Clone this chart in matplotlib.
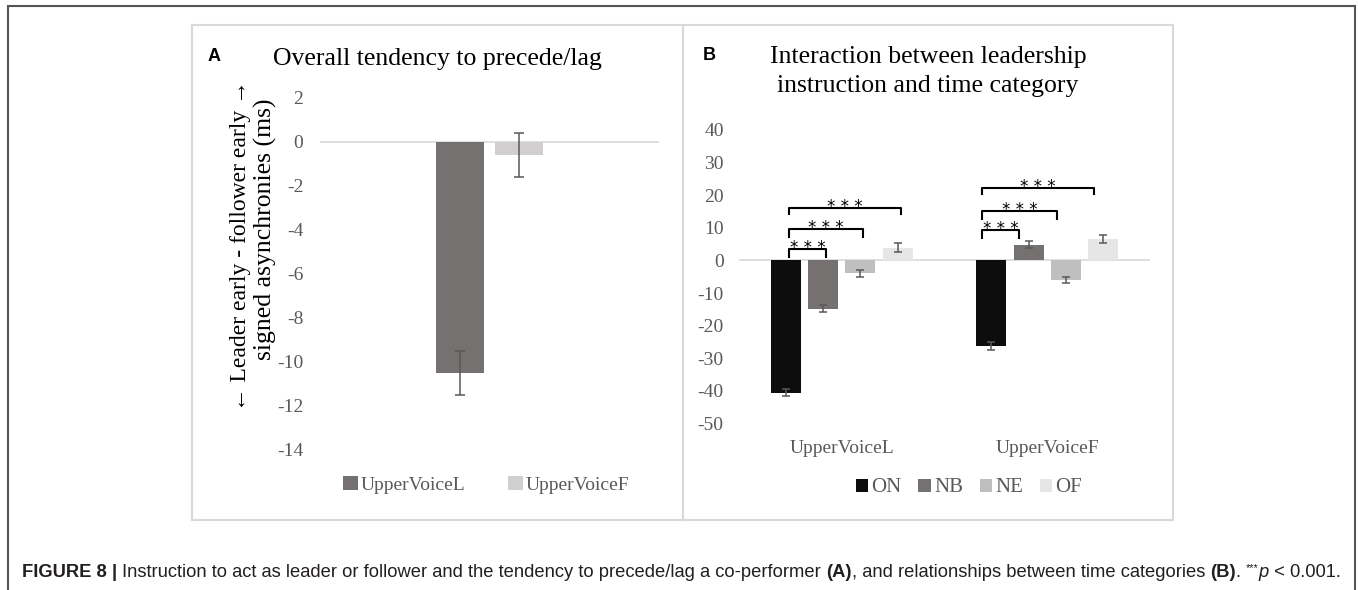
import matplotlib
matplotlib.use("Agg")
import matplotlib.pyplot as plt
import matplotlib.patches as patches
from matplotlib import font_manager
import numpy as np

# --- data ---
# panel A: overall tendency
a_series = ["UpperVoiceL", "UpperVoiceF"]
a_means = [-10.5, -0.6]
a_errs = [1.0, 1.0]

# panel B: leadership x time category
b_groups = ["UpperVoiceL", "UpperVoiceF"]
b_series = ["ON", "NB", "NE", "OF"]
b_means = {
    "ON": [-40.6, -26.2],
    "NB": [-14.8, 4.8],
    "NE": [-4.0, -6.0],
    "OF": [3.9, 6.6],
}
b_errs = {
    "ON": [1.1, 1.2],
    "NB": [1.0, 1.1],
    "NE": [1.0, 1.0],
    "OF": [1.4, 1.3],
}
# significance brackets: (group, series compared with ON, bracket top, leg end)
b_sig = [
    (0, "NB", 3.6, 1.1), (0, "NE", 9.6, 7.2), (0, "OF", 16.0, 14.3),
    (1, "NB", 9.4, 6.8), (1, "NE", 15.1, 12.8), (1, "OF", 22.1, 20.3),
]

a_colors = ["#767171", "#d0cece"]
b_colors = {"ON": "#0d0d0d", "NB": "#767171", "NE": "#bfbfbf", "OF": "#e7e6e6"}

W, H = 1358, 590
SERIF = "Liberation Serif"
TICK = "#595959"
plt.rcParams["axes.unicode_minus"] = False

fig = plt.figure(figsize=(W / 100, H / 100), dpi=100)


def fx(x):
    return x / W


def fy(y):
    return 1 - y / H


# frames
fig.add_artist(patches.Rectangle((fx(8), -0.05), fx(1355) - fx(8), fy(6) + 0.05,
                                 transform=fig.transFigure, fill=False,
                                 edgecolor="#555555", linewidth=1.5, clip_on=False))
fig.add_artist(patches.Rectangle((fx(192), fy(520)), fx(1173) - fx(192), fy(25) - fy(520),
                                 transform=fig.transFigure, fill=False,
                                 edgecolor="#d9d9d9", linewidth=1.5))
fig.add_artist(plt.Line2D([fx(683), fx(683)], [fy(520), fy(25)],
                          transform=fig.transFigure, color="#d9d9d9", linewidth=1.5))


def style_axes(ax):
    for s in ax.spines.values():
        s.set_visible(False)
    ax.axhline(0, color="#d9d9d9", linewidth=1.2, zorder=1)
    ax.tick_params(axis="both", length=0, labelsize=14, labelcolor=TICK)
    for lab in ax.get_yticklabels() + ax.get_xticklabels():
        lab.set_family(SERIF)


# ---------- panel A ----------
axA = fig.add_axes([fx(320), fy(450), fx(659) - fx(320), fy(98) - fy(450)])
bw_a = 0.139
offs_a = [-0.087, 0.087]
for i, name in enumerate(a_series):
    axA.bar(offs_a[i], a_means[i], width=bw_a, color=a_colors[i], label=name, zorder=2,
            yerr=a_errs[i], error_kw=dict(ecolor="#595959", elinewidth=1.1, capsize=3.6, capthick=1.1))
axA.set_xlim(-0.5, 0.5)
axA.set_ylim(-14, 2)
axA.set_yticks(np.arange(-14, 3, 2))
axA.set_xticks([])
style_axes(axA)
axA.tick_params(axis="y", pad=12)
axA.legend(loc="center", bbox_to_anchor=(fx(486), fy(485)), bbox_transform=fig.transFigure,
           ncol=2, frameon=False, prop={"family": SERIF, "size": 14}, labelcolor=TICK,
           handlelength=0.75, handleheight=0.75, handletextpad=0.15, columnspacing=2.2)

fig.text(fx(208), fy(61), "A", family="Liberation Sans", weight="bold", fontsize=13, va="baseline")
fig.text(fx(437.5), fy(65), "Overall tendency to precede/lag", family=SERIF,
         fontsize=18.5, ha="center", va="baseline")
fig.text(fx(240), fy(245.5), "\u2190 Leader early - follower early \u2192", family=SERIF,
         fontsize=17, rotation=90, ha="center", va="center")
fig.text(fx(265), fy(229), "signed asynchronies (ms)", family=SERIF,
         fontsize=18.5, rotation=90, ha="center", va="center")

# ---------- panel B ----------
axB = fig.add_axes([fx(739), fy(423.5), fx(1150) - fx(739), fy(130) - fy(423.5)])
x = np.arange(len(b_groups))
bw_b = 0.146
step = 0.1815
for k, s in enumerate(b_series):
    axB.bar(x + (k - 1.5) * step, b_means[s], width=bw_b, color=b_colors[s], label=s, zorder=2,
            yerr=b_errs[s], error_kw=dict(ecolor="#595959", elinewidth=1.1, capsize=2.9, capthick=1.1))
axB.set_xlim(-0.5, 1.5)
axB.set_ylim(-50, 40)
axB.set_yticks(np.arange(-50, 41, 10))
axB.set_xticks(x)
axB.set_xticklabels(b_groups)
style_axes(axB)
axB.tick_params(axis="y", pad=11)
axB.tick_params(axis="x", pad=12)
axB.legend(loc="center", bbox_to_anchor=(fx(969), fy(488)), bbox_transform=fig.transFigure,
           ncol=4, frameon=False, prop={"family": SERIF, "size": 15}, labelcolor=TICK,
           handlelength=0.6, handleheight=0.6, handletextpad=0.15, columnspacing=0.8)

nudge = [0.015, -0.045]
for g, s, ytop, yleg in b_sig:
    k = b_series.index(s)
    x0 = g + (0 - 1.5) * step + nudge[g]
    x1 = g + (k - 1.5) * step + nudge[g]
    axB.plot([x0, x0, x1, x1], [yleg, ytop, ytop, yleg], color="black", linewidth=1.5,
             zorder=3, clip_on=False)
    axB.text((x0 + x1) / 2, ytop - 1.2, "* * *", family="DejaVu Sans", fontsize=12,
             ha="center", va="baseline")

fig.text(fx(703), fy(60), "B", family="Liberation Sans", weight="bold", fontsize=13, va="baseline")
fig.text(fx(928), fy(63), "Interaction between leadership", family=SERIF,
         fontsize=18.5, ha="center", va="baseline")
fig.text(fx(928), fy(92), "instruction and time category", family=SERIF,
         fontsize=18.5, ha="center", va="baseline")

# ---------- caption ----------
names = {f.name for f in font_manager.fontManager.ttflist}
cap_family = "Liberation Sans Narrow" if "Liberation Sans Narrow" in names else "Liberation Sans"
pieces = [
    ("FIGURE 8 | ", "bold", "normal", 1.0, 0),
    ("Instruction to act as leader or follower and the tendency to precede/lag a co-performer ", "normal", "normal", 1.0, 0),
    ("(A)", "bold", "normal", 1.0, 0),
    (", and relationships between time categories ", "normal", "normal", 1.0, 0),
    ("(B)", "bold", "normal", 1.0, 0),
    (". ", "normal", "normal", 1.0, 0),
    ("***", "normal", "normal", 0.6, 6),
    ("p", "normal", "italic", 1.0, 0),
    (" < 0.001.", "normal", "normal", 1.0, 0),
]
renderer = fig.canvas.get_renderer()


def caption_width(size):
    tot = 0
    for txt, wt, st, sc, _ in pieces:
        t = fig.text(0, 0, txt, family=cap_family, weight=wt, style=st, fontsize=size * sc)
        tot += t.get_window_extent(renderer).width
        t.remove()
    return tot


size = 13.0
target = 1335 - 22
size *= target / caption_width(size)
cx = 22
for txt, wt, st, sc, dy in pieces:
    t = fig.text(fx(cx), fy(577 - dy), txt, family=cap_family, weight=wt, style=st,
                 fontsize=size * sc, va="baseline", color="#231f20")
    cx += t.get_window_extent(renderer).width

fig.savefig("out.png", dpi=100)
